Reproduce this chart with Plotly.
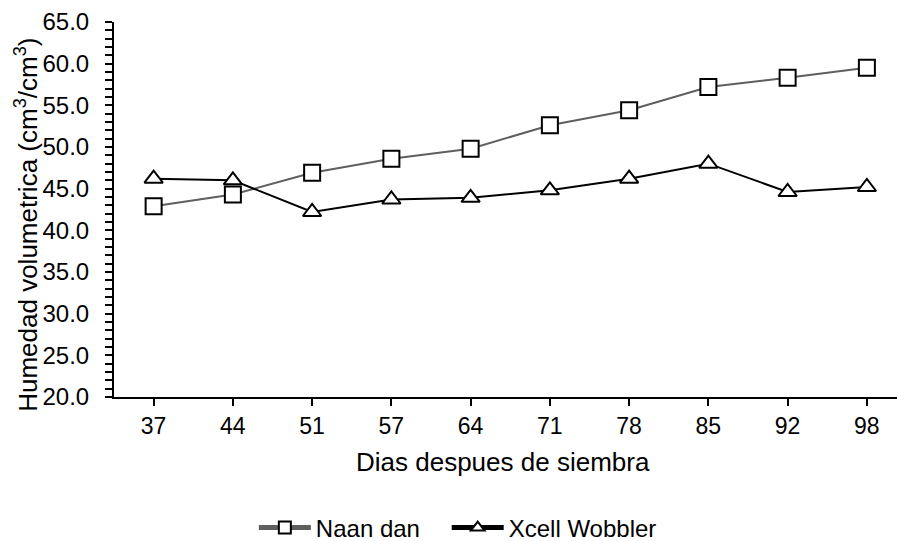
import plotly.graph_objects as go

# Days after sowing (category labels on the x axis)
dias = ["37", "44", "51", "57", "64", "71", "78", "85", "92", "98"]

# Volumetric soil moisture (cm3/cm3, %) per treatment
naan_dan = [42.9, 44.3, 46.9, 48.6, 49.8, 52.6, 54.4, 57.2, 58.3, 59.5]
xcell_wobbler = [46.2, 46.0, 42.2, 43.7, 43.9, 44.8, 46.2, 48.0, 44.6, 45.2]

FONT = "Liberation Sans, Arial, sans-serif"

fig = go.Figure()

fig.add_trace(go.Scatter(
    x=dias, y=naan_dan, name="Naan dan", mode="lines+markers",
    line=dict(color="#5f5f5f", width=2),
    marker=dict(symbol="square", size=16, color="white",
                line=dict(color="black", width=2)),
    legend="legend",
))

fig.add_trace(go.Scatter(
    x=dias, y=xcell_wobbler, name="Xcell Wobbler", mode="lines+markers",
    line=dict(color="black", width=2),
    marker=dict(symbol="triangle-up", size=16, color="white",
                line=dict(color="black", width=2)),
    legend="legend2",
))

legend_style = dict(
    orientation="h", xref="container", yref="container",
    xanchor="left", y=0.024, yanchor="middle",
    font=dict(family=FONT, size=24, color="black"),
    itemsizing="constant", itemwidth=52,
    bgcolor="rgba(0,0,0,0)",
)

fig.update_layout(
    width=897, height=541,
    margin=dict(l=114, r=0, t=22, b=144, autoexpand=False),
    paper_bgcolor="white", plot_bgcolor="white",
    font=dict(family=FONT, color="black", size=24),
    showlegend=True,
    legend=dict(legend_style, x=0.283),
    legend2=dict(legend_style, x=0.498),
    xaxis=dict(
        type="category", range=[-0.5, 9.38],
        showline=True, linecolor="black", linewidth=2,
        ticks="outside", ticklen=7, tickwidth=2, tickcolor="black",
        showgrid=False, zeroline=False, ticklabelstandoff=0,
        tickfont=dict(family=FONT, size=23, color="black"),
    ),
    yaxis=dict(
        range=[20, 65], dtick=5, tickformat=".1f",
        showline=True, linecolor="black", linewidth=2,
        ticks="outside", ticklen=7, tickwidth=2, tickcolor="black",
        minor=dict(dtick=1, ticks="outside", ticklen=7, tickwidth=2,
                   tickcolor="black", showgrid=False),
        showgrid=False, zeroline=False, ticklabelstandoff=11,
        tickfont=dict(family=FONT, size=24, color="black"),
    ),
    annotations=[
        dict(text="Dias despues de siembra", xref="paper", yref="paper",
             x=0.497, y=-0.173, xanchor="center", yanchor="middle",
             showarrow=False, font=dict(family=FONT, size=26, color="black")),
        dict(text="Humedad volumetrica (cm<sup>3</sup>/cm<sup>3</sup>)",
             xref="paper", yref="paper", x=-0.112, y=0.46,
             xanchor="center", yanchor="middle", textangle=-90,
             showarrow=False, font=dict(family=FONT, size=26, color="black")),
    ],
)

fig.write_html("out.html")
